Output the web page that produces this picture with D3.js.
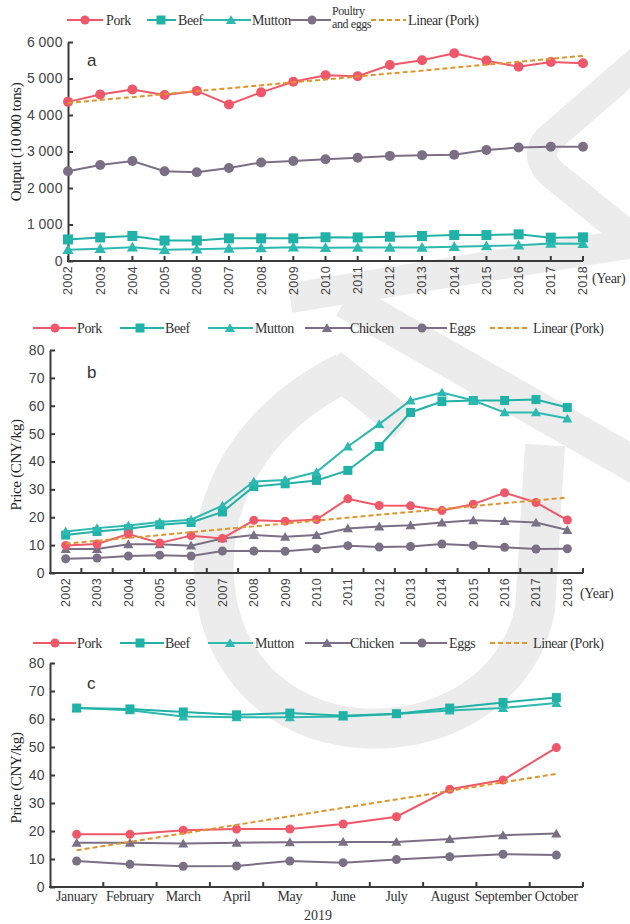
<!DOCTYPE html>
<html>
<head>
<meta charset="utf-8">
<script src="https://cdn.jsdelivr.net/npm/d3@7"></script>
<style>
  body { margin: 0; background: #fff; }
  svg { display: block; }
</style>
</head>
<body>
<div id="chart"></div>
<script>
// ---- data ----
const years = ["2002", "2003", "2004", "2005", "2006", "2007", "2008", "2009", "2010",
  "2011", "2012", "2013", "2014", "2015", "2016", "2017", "2018"];
const months = ["January", "February", "March", "April", "May", "June", "July",
  "August", "September", "October"];

// a: output (10 000 tons)
const outPork = [4360, 4560, 4700, 4550, 4660, 4290, 4620, 4910, 5090, 5060, 5370, 5500, 5690, 5490, 5320, 5450, 5420];
const outBeef = [590, 645, 685, 560, 560, 620, 620, 620, 650, 645, 665, 685, 710, 710, 730, 640, 648];
const outMutton = [310, 338, 375, 310, 320, 340, 356, 375, 365, 370, 370, 370, 393, 411, 430, 480, 475];
const outPoultry = [2460, 2630, 2740, 2460, 2430, 2550, 2700, 2740, 2790, 2830, 2880, 2900, 2910, 3040, 3110, 3130, 3130];
const outPorkLinear = [4330, 5620];

// b: yearly prices (CNY/kg)
const yrPork = [9.9, 10.4, 14.0, 10.8, 13.4, 12.4, 18.9, 18.6, 19.2, 26.6, 24.2, 24.1, 22.4, 24.7, 28.8, 25.3, 19.0];
const yrBeef = [13.6, 14.9, 15.9, 17.3, 18.1, 21.9, 31.0, 32.0, 33.2, 36.8, 45.4, 57.6, 61.5, 61.9, 61.9, 62.2, 59.4];
const yrMutton = [14.9, 16.1, 17.0, 18.3, 19.1, 24.2, 32.8, 33.4, 36.2, 45.4, 53.4, 61.9, 64.7, 61.9, 57.6, 57.6, 55.4];
const yrChicken = [8.6, 8.6, 10.3, 10.3, 9.8, 12.4, 13.6, 13.0, 13.6, 16.0, 16.7, 17.1, 18.1, 18.9, 18.6, 18.1, 15.4];
const yrEggs = [5.1, 5.4, 6.1, 6.4, 6.1, 7.9, 7.9, 7.8, 8.7, 9.8, 9.3, 9.5, 10.4, 9.9, 9.2, 8.6, 8.7];
const yrPorkLinear = [10.5, 27.1];

// c: monthly prices 2019 (CNY/kg)
const moPork = [18.8, 18.8, 20.3, 20.7, 20.7, 22.5, 25.1, 34.9, 38.2, 49.8];
const moBeef = [63.9, 63.6, 62.5, 61.5, 62.1, 61.2, 61.9, 63.9, 65.9, 67.7];
const moMutton = [63.9, 63.1, 60.9, 60.6, 60.6, 60.9, 61.8, 63.0, 63.9, 65.7];
const moChicken = [15.8, 15.8, 15.5, 15.8, 16.0, 16.1, 16.1, 17.1, 18.5, 19.1];
const moEggs = [9.3, 8.1, 7.4, 7.5, 9.3, 8.7, 9.8, 10.8, 11.7, 11.4];
const moPorkLinear = [13.1, 40.4];

const priceTicks = [0, 10, 20, 30, 40, 50, 60, 70, 80];
const outputTicks = [0, 1000, 2000, 3000, 4000, 5000, 6000];

// ---- styles ----
const W = 630, H = 924;
const col = {
  pork: '#f05769',
  beef: '#20b1a7',
  mutton: '#2cb9af',
  grey: '#7b6f86',
  linear: '#e0952c',
  axis: '#3a3a3a'
};
const serif = '"Liberation Serif", "Times New Roman", serif';
const sans = '"Liberation Sans", Arial, sans-serif';

const svg = d3.select('#chart').append('svg')
  .attr('width', W).attr('height', H)
  .style('background', '#fff');

// faint watermark behind the plots
const wm = svg.append('g').attr('fill', 'none').attr('stroke', '#ececec').attr('stroke-linecap', 'butt');
wm.append('path')
  .attr('d', 'M345,372 C250,420 205,500 215,590 C228,690 310,735 390,728 C460,722 520,680 535,610 L545,445')
  .attr('stroke-width', 40);
wm.append('path').attr('d', 'M330,365 L405,425').attr('stroke-width', 34);
wm.append('path').attr('d', 'M290,298 L640,242').attr('stroke-width', 30);
wm.append('path').attr('d', 'M345,300 L640,468').attr('stroke-width', 36);
wm.append('path').attr('d', 'M640,60 L548,140 C535,155 545,170 560,180 L640,245').attr('stroke-width', 30);

function drawMarker(g, shape, x, y, s, color) {
  if (shape === 'circle') {
    g.append('circle').attr('cx', x).attr('cy', y).attr('r', s / 2).attr('fill', color);
  } else if (shape === 'square') {
    g.append('rect').attr('x', x - s / 2).attr('y', y - s / 2)
      .attr('width', s).attr('height', s).attr('fill', color);
  } else if (shape === 'triangle') {
    g.append('path')
      .attr('transform', `translate(${x},${y + 1})`)
      .attr('d', d3.symbol(d3.symbolTriangle, s * s * 0.55)())
      .attr('fill', color);
  }
}

function drawLegend(y, items) {
  const g = svg.append('g');
  items.forEach(it => {
    const line = g.append('line')
      .attr('x1', it.x1).attr('x2', it.x2).attr('y1', y).attr('y2', y)
      .attr('stroke', it.color).attr('stroke-width', 2);
    if (it.dash) line.attr('stroke-dasharray', '5,3');
    if (it.shape) drawMarker(g, it.shape, it.mx, y, 9, it.color);
    const lines = it.label.split('\n');
    const two = lines.length > 1;
    lines.forEach((t, i) => {
      g.append('text')
        .attr('x', it.tx)
        .attr('y', two ? y - 5.5 + i * 13 : y + 5)
        .attr('font-family', serif).attr('font-size', two ? 12 : 14)
        .attr('letter-spacing', -0.4)
        .attr('fill', '#333')
        .text(t);
    });
  });
}

function drawPanel(p) {
  const g = svg.append('g');
  const y = d3.scaleLinear().domain(p.yDomain).range([p.bottom, p.top]);
  let x, xAt;
  if (p.point) {
    x = d3.scalePoint().domain(p.cats).range([p.left, p.right]);
    xAt = c => x(c);
  } else {
    x = d3.scaleBand().domain(p.cats).range([p.left, p.right]);
    xAt = c => x(c) + x.bandwidth() / 2;
  }

  // y axis
  const yAxis = d3.axisLeft(y).tickValues(p.yTicks).tickSizeInner(-5).tickSizeOuter(0)
    .tickPadding(5).tickFormat(p.yFormat);
  const ya = g.append('g').attr('transform', `translate(${p.left},0)`).call(yAxis);
  ya.select('.domain').attr('stroke', col.axis).attr('stroke-width', 2);
  ya.selectAll('.tick line').attr('stroke', col.axis).attr('stroke-width', 2);
  ya.selectAll('.tick text').attr('font-family', sans).attr('font-size', 14)
    .attr('fill', '#444').attr('letter-spacing', 0.4);

  // x axis
  const xa = g.append('g').attr('transform', `translate(0,${p.bottom})`);
  xa.append('line').attr('x1', p.left - 1).attr('x2', p.right)
    .attr('stroke', col.axis).attr('stroke-width', 2);
  let tickXs;
  if (p.point) tickXs = p.cats.map(c => x(c));
  else tickXs = p.cats.map(c => x(c) + x.step());
  xa.selectAll('line.tk').data(tickXs).join('line').attr('class', 'tk')
    .attr('x1', d => d).attr('x2', d => d).attr('y1', 0).attr('y2', -5)
    .attr('stroke', col.axis).attr('stroke-width', 2);
  if (p.rotateLabels) {
    xa.selectAll('text.lab').data(p.cats).join('text').attr('class', 'lab')
      .attr('transform', d => `translate(${xAt(d)},0) rotate(-90)`)
      .attr('x', -5).attr('dy', '0.35em')
      .attr('text-anchor', 'end')
      .attr('font-family', sans).attr('font-size', 12.5).attr('fill', '#444')
      .attr('letter-spacing', 0.3)
      .text(d => d);
  } else {
    xa.selectAll('text.lab').data(p.cats).join('text').attr('class', 'lab')
      .attr('x', d => xAt(d)).attr('y', 14)
      .attr('text-anchor', 'middle')
      .attr('font-family', serif).attr('font-size', 14).attr('fill', '#333')
      .attr('letter-spacing', -0.3)
      .text(d => d);
  }

  // y title
  g.append('text')
    .attr('transform', `translate(${p.titleX},${p.titleY}) rotate(-90)`)
    .attr('text-anchor', 'middle').attr('dy', '0.35em')
    .attr('font-family', serif).attr('font-size', 15).attr('fill', '#222')
    .attr('letter-spacing', -0.3)
    .text(p.yTitle);

  // panel letter
  g.append('text').attr('x', p.letterX).attr('y', p.letterY)
    .attr('font-family', sans).attr('font-size', 17).attr('fill', '#333')
    .text(p.letter);

  // series
  const line = d3.line().x((d, i) => xAt(p.cats[i])).y(d => y(d));
  p.series.forEach(s => {
    g.append('path').datum(s.values)
      .attr('d', line).attr('fill', 'none')
      .attr('stroke', s.color).attr('stroke-width', 2);
    s.values.forEach((v, i) => drawMarker(g, s.shape, xAt(p.cats[i]), y(v), p.markerSize, s.color));
  });

  // linear trend of pork (dashed)
  const first = p.cats[0], last = p.cats[p.cats.length - 1];
  g.append('line')
    .attr('x1', xAt(first)).attr('y1', y(p.linear[0]))
    .attr('x2', xAt(last)).attr('y2', y(p.linear[1]))
    .attr('stroke', col.linear).attr('stroke-width', 2)
    .attr('stroke-dasharray', '5,3');
  return g;
}

const thin = d3.formatLocale({ decimal: '.', thousands: '\u2009', grouping: [3], currency: ['', ''] }).format(',');

// ---- panel a ----
drawLegend(20, [
  { label: 'Pork', color: col.pork, shape: 'circle', x1: 67, x2: 103, mx: 85, tx: 106 },
  { label: 'Beef', color: col.beef, shape: 'square', x1: 147, x2: 176, mx: 161, tx: 178 },
  { label: 'Mutton', color: col.mutton, shape: 'triangle', x1: 203, x2: 251, mx: 231, tx: 252 },
  { label: 'Poultry\nand eggs', color: col.grey, shape: 'circle', x1: 290, x2: 331, mx: 312, tx: 332 },
  { label: 'Linear (Pork)', color: col.linear, dash: true, x1: 371, x2: 406, tx: 408 }
]);
drawPanel({
  cats: years, point: true, left: 68, right: 583, top: 42, bottom: 261,
  yDomain: [0, 6000], yTicks: outputTicks, yFormat: thin,
  rotateLabels: true, yTitle: 'Output (10\u2009000 tons)', titleX: 16, titleY: 142,
  letter: 'a', letterX: 87, letterY: 66, markerSize: 10,
  series: [
    { values: outMutton, color: col.mutton, shape: 'triangle' },
    { values: outBeef, color: col.beef, shape: 'square' },
    { values: outPoultry, color: col.grey, shape: 'circle' },
    { values: outPork, color: col.pork, shape: 'circle' }
  ],
  linear: outPorkLinear
});
svg.append('text').attr('x', 592).attr('y', 283)
  .attr('font-family', serif).attr('font-size', 14).attr('fill', '#333')
  .attr('letter-spacing', -0.3).text('(Year)');

// ---- panel b ----
const legendBC = [
  { label: 'Pork', color: col.pork, shape: 'circle', x1: 33, x2: 76, mx: 55, tx: 77 },
  { label: 'Beef', color: col.beef, shape: 'square', x1: 120, x2: 164, mx: 140, tx: 165 },
  { label: 'Mutton', color: col.mutton, shape: 'triangle', x1: 208, x2: 253, mx: 230, tx: 255 },
  { label: 'Chicken', color: col.grey, shape: 'triangle', x1: 305, x2: 351, mx: 327, tx: 350 },
  { label: 'Eggs', color: col.grey, shape: 'circle', x1: 400, x2: 447, mx: 422, tx: 449 },
  { label: 'Linear (Pork)', color: col.linear, dash: true, x1: 490, x2: 530, tx: 533 }
];
drawLegend(328, legendBC);
drawPanel({
  cats: years, point: false, left: 50, right: 583, top: 350, bottom: 573,
  yDomain: [0, 80], yTicks: priceTicks, yFormat: d3.format('d'),
  rotateLabels: true, yTitle: 'Price (CNY/kg)', titleX: 16, titleY: 465,
  letter: 'b', letterX: 87, letterY: 378, markerSize: 9,
  series: [
    { values: yrEggs, color: col.grey, shape: 'circle' },
    { values: yrChicken, color: col.grey, shape: 'triangle' },
    { values: yrBeef, color: col.beef, shape: 'square' },
    { values: yrMutton, color: col.mutton, shape: 'triangle' },
    { values: yrPork, color: col.pork, shape: 'circle' }
  ],
  linear: yrPorkLinear
});
svg.append('text').attr('x', 580).attr('y', 598)
  .attr('font-family', serif).attr('font-size', 14).attr('fill', '#333')
  .attr('letter-spacing', -0.3).text('(Year)');

// ---- panel c ----
drawLegend(643, legendBC);
drawPanel({
  cats: months, point: false, left: 50, right: 583, top: 663, bottom: 887,
  yDomain: [0, 80], yTicks: priceTicks, yFormat: d3.format('d'),
  rotateLabels: false, yTitle: 'Price (CNY/kg)', titleX: 16, titleY: 778,
  letter: 'c', letterX: 87, letterY: 689, markerSize: 9,
  series: [
    { values: moEggs, color: col.grey, shape: 'circle' },
    { values: moChicken, color: col.grey, shape: 'triangle' },
    { values: moMutton, color: col.mutton, shape: 'triangle' },
    { values: moBeef, color: col.beef, shape: 'square' },
    { values: moPork, color: col.pork, shape: 'circle' }
  ],
  linear: moPorkLinear
});
svg.append('text').attr('x', 318).attr('y', 920).attr('text-anchor', 'middle')
  .attr('font-family', serif).attr('font-size', 14).attr('fill', '#333')
  .text('2019');
</script>
</body>
</html>
